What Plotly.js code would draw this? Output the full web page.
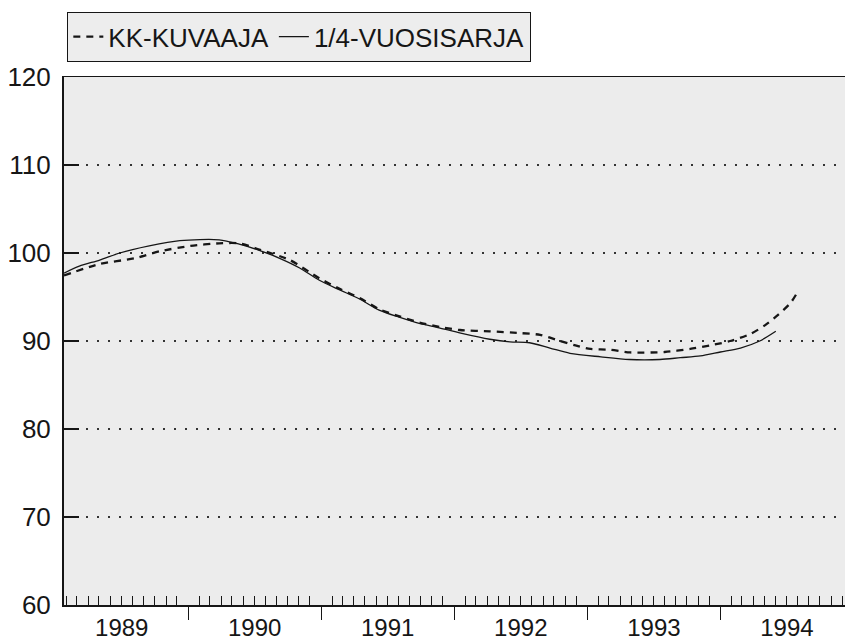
<!DOCTYPE html>
<html>
<head>
<meta charset="utf-8">
<script src="https://cdn.plot.ly/plotly-3.0.1.min.js"></script>
<style>html,body{margin:0;padding:0;background:#fff;}#chart{width:845px;height:641px;}</style>
</head>
<body>
<div id="chart"></div>
<script>
// Monthly series (KK-KUVAAJA), dashed
const monthlyDates = ['1989-01-25','1989-05-03','1989-08-07','1989-10-15','1990-01-07','1990-03-27','1990-05-21','1990-07-15','1990-10-07','1990-12-28','1991-02-22','1991-04-16','1991-06-10','1991-08-04','1991-09-28','1991-11-23','1992-01-17','1992-04-08','1992-06-30','1992-08-24','1992-10-18','1992-11-29','1993-01-09','1993-03-04','1993-04-28','1993-08-01','1993-10-10','1993-12-04','1994-01-28','1994-03-24','1994-05-04','1994-06-09','1994-07-12','1994-07-28'];
const monthlyValues = [97.45,98.75,99.4,100.2,100.8,101.1,101.1,100.4,99.2,97.1,95.9,94.9,93.6,92.8,92.1,91.6,91.25,91.1,90.9,90.7,90.0,89.5,89.1,89.0,88.7,88.75,89.1,89.5,90.0,90.8,91.8,93.0,94.3,95.3];

// Quarterly series (1/4-VUOSISARJA), solid
const quarterDates = ['1989-01-25','1989-03-08','1989-05-03','1989-06-27','1989-09-16','1989-12-09','1990-03-27','1990-05-21','1990-07-15','1990-09-09','1990-11-03','1990-12-27','1991-02-21','1991-04-15','1991-06-09','1991-08-03','1991-09-27','1991-11-21','1992-01-19','1992-04-08','1992-06-02','1992-07-26','1992-09-20','1992-11-14','1993-02-07','1993-04-26','1993-07-19','1993-09-13','1993-11-07','1994-01-01','1994-02-25','1994-04-19','1994-06-02'];
const quarterValues = [97.7,98.5,99.2,100.0,100.8,101.4,101.5,101.0,100.3,99.4,98.3,96.9,95.8,94.8,93.5,92.7,92.0,91.5,90.9,90.2,89.9,89.8,89.2,88.6,88.2,87.9,87.9,88.1,88.3,88.75,89.2,90.0,91.1];

const seriesNames = ['KK-KUVAAJA','1/4-VUOSISARJA'];
const yTicks = [60,70,80,90,100,110,120];
const xRange = ['1989-01-25','1994-12-09'];

const FONT = 'Liberation Sans, Arial, Helvetica, sans-serif';
const INK = '#161616';

const traces = [
  {x: monthlyDates, y: monthlyValues, name: seriesNames[0], type: 'scatter', mode: 'lines',
   line: {color: INK, width: 2.3, dash: '7px,6px', shape: 'spline', smoothing: 0.7}},
  {x: quarterDates, y: quarterValues, name: seriesNames[1], type: 'scatter', mode: 'lines',
   line: {color: INK, width: 1.3, shape: 'spline', smoothing: 0.8}},
  // carrier for the year-boundary tick axis (no visible marks)
  {x: xRange, y: [null, null], xaxis: 'x2', yaxis: 'y', type: 'scatter', mode: 'lines',
   showlegend: false, hoverinfo: 'skip'}
];

const layout = {
  width: 845, height: 641,
  margin: {l: 64, r: 0, t: 77, b: 36},
  paper_bgcolor: '#ffffff',
  plot_bgcolor: '#ececec',
  font: {family: FONT, color: INK},
  showlegend: true,
  legend: {orientation: 'h', x: 0.004, xanchor: 'left', y: 1.123, yanchor: 'top',
    bgcolor: '#ededed', bordercolor: INK, borderwidth: 1.2, itemwidth: 30,
    font: {family: FONT, size: 26, color: INK}},
  xaxis: {type: 'date', range: xRange, showgrid: false, zeroline: false,
    showline: true, linecolor: INK, linewidth: 1.5, mirror: true,
    tickmode: 'linear', tick0: '1990-01-01', dtick: 'M12', tickformat: '%Y',
    ticklabelmode: 'period', ticks: '', ticklabelstandoff: 1,
    tickfont: {family: FONT, size: 24, color: INK},
    minor: {tickmode: 'linear', tick0: '1989-01-01', dtick: 'M1', ticks: 'inside', ticklen: 9, tickwidth: 1, tickcolor: INK, showgrid: false}},
  xaxis2: {type: 'date', overlaying: 'x', matches: 'x', anchor: 'y', side: 'bottom',
    range: xRange, showgrid: false, zeroline: false, showline: false, showticklabels: false,
    tickmode: 'linear', tick0: '1990-01-01', dtick: 'M12',
    ticks: 'outside', ticklen: 14, tickwidth: 1, tickcolor: INK},
  yaxis: {range: [60, 120], tickmode: 'array', tickvals: yTicks, ticktext: yTicks.map(String),
    showline: true, linecolor: INK, linewidth: 2, zeroline: false,
    ticks: 'inside', ticklen: 15, tickwidth: 2, tickcolor: INK, ticklabelstandoff: 6,
    showgrid: true, gridcolor: '#333333', gridwidth: 1.5, griddash: '2px,9px',
    tickfont: {family: FONT, size: 26, color: INK}}
};

Plotly.newPlot('chart', traces, layout, {staticPlot: true, displayModeBar: false});
</script>
</body>
</html>
